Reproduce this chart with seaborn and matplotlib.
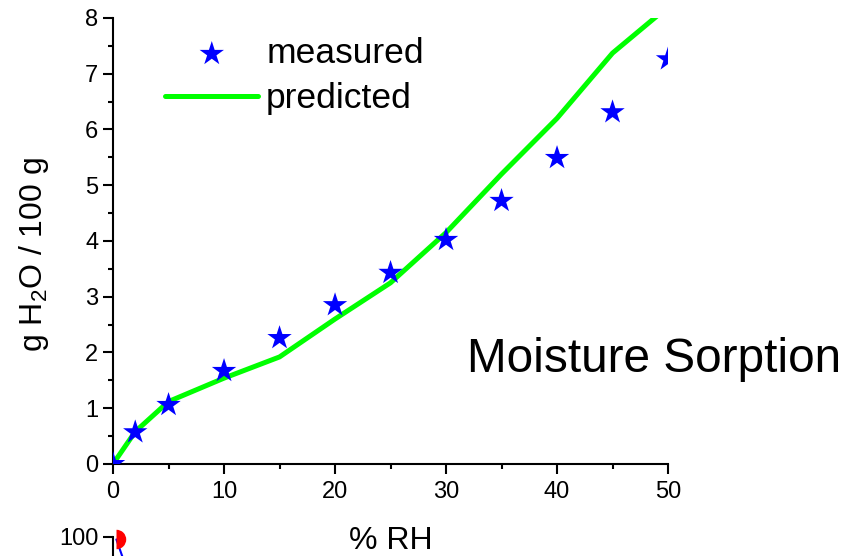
import matplotlib
matplotlib.use("Agg")
import matplotlib.pyplot as plt
import numpy as np
import pandas as pd
import seaborn as sns

# % RH vs g H2O / 100 g
rh_measured = [0, 2, 5, 10, 15, 20, 25, 30, 35, 40, 45, 50]
water_measured = [0.0, 0.57, 1.06, 1.67, 2.26, 2.85, 3.43, 4.02, 4.72, 5.49, 6.31, 7.26]

rh_predicted = [0, 2, 5, 10, 15, 20, 25, 30, 35, 40, 45, 50]
water_predicted = [0.0, 0.58, 1.12, 1.54, 1.92, 2.60, 3.25, 4.15, 5.20, 6.20, 7.37, 8.20]

# bits of the next panel that peek in at the bottom edge
lower_x = [0.3, 1.0]
lower_y = [99.3, 93.0]

sns.set_style("ticks")
plt.rcParams["font.family"] = ["Liberation Sans", "DejaVu Sans"]
plt.rcParams["mathtext.default"] = "regular"
for key in ["text.color", "axes.labelcolor", "xtick.color", "ytick.color",
            "axes.edgecolor"]:
    plt.rcParams[key] = "black"

fig = plt.figure(figsize=(8.57, 5.56), dpi=100)
ax = fig.add_axes([0.1319, 0.1655, 0.6476, 0.8022])

meas = pd.DataFrame({"rh": rh_measured, "water": water_measured})
pred = pd.DataFrame({"rh": rh_predicted, "water": water_predicted})

sns.lineplot(data=pred, x="rh", y="water", ax=ax, color="#00ff00", lw=3.6,
             label="predicted", zorder=2)
sns.scatterplot(data=meas, x="rh", y="water", ax=ax, marker="*", s=340,
                color="#0000ff", edgecolor="none", label="measured", zorder=3)

ax.set_xlim(0, 50)
ax.set_ylim(0, 8)
ax.set_xticks([0, 10, 20, 30, 40, 50])
ax.set_xticks([5, 15, 25, 35, 45], minor=True)
ax.set_yticks(range(0, 9))
ax.set_yticks(np.arange(0.5, 8, 1.0), minor=True)
ax.tick_params(which="major", direction="out", length=7, width=1.5,
               labelsize=17)
ax.tick_params(axis="x", which="major", pad=5)
ax.tick_params(which="minor", direction="out", length=3.6, width=1.5)
for side in ["left", "bottom"]:
    ax.spines[side].set_linewidth(1.5)
ax.spines["top"].set_visible(False)
ax.spines["right"].set_visible(False)

ax.set_xlabel("% RH", fontsize=23)
ax.xaxis.set_label_coords(0.5, -0.172)
ax.xaxis.label.set_va("center")
ax.set_ylabel("g H$_2$O / 100 g", fontsize=23)
ax.yaxis.set_label_coords(-0.143, 0.469)
ax.yaxis.label.set_va("center")

ax.text(0.637, 0.206, "Moisture Sorption", transform=ax.transAxes,
        fontsize=34.4, ha="left", va="baseline")

handles, labels = ax.get_legend_handles_labels()
order = [labels.index("measured"), labels.index("predicted")]
ax.legend([handles[i] for i in order], [labels[i] for i in order],
          loc="upper left", bbox_to_anchor=(0.094, 0.957), frameon=False,
          fontsize=25.5, handlelength=2.63, handletextpad=0.22,
          labelspacing=0.34, borderaxespad=0, borderpad=0, markerscale=1.0)

# lower panel, mostly off the canvas
ax2 = fig.add_axes([0.1319, -0.6, 0.6476, 0.6342])
ax2.patch.set_visible(False)
ax2.plot(lower_x, lower_y, color="#0000ff", lw=1.5, zorder=2)
ax2.plot(lower_x[:1], lower_y[:1], "o", color="#ff0000", ms=14, zorder=3,
         fillstyle="right", markerfacecoloralt="none", markeredgewidth=0,
         clip_on=False)
ax2.set_xlim(0, 50)
ax2.set_ylim(0, 100)
ax2.set_yticks([100])
ax2.set_xticks([])
ax2.tick_params(direction="out", length=7, width=1.5, labelsize=17)
ax2.spines["left"].set_linewidth(1.5)
for side in ["top", "right", "bottom"]:
    ax2.spines[side].set_visible(False)

fig.savefig("out.png", dpi=100)
